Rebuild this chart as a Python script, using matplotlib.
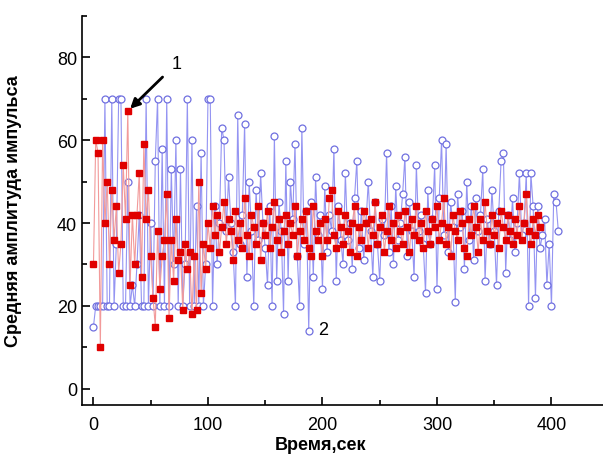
import numpy as np
import matplotlib
matplotlib.use('Agg')
import matplotlib.pyplot as plt
from matplotlib.ticker import MultipleLocator

plt.rcParams['font.family'] = ['Liberation Sans', 'DejaVu Sans']

# series 2 (blue circles), one sample every 2 s
t_blue = np.arange(0, 406.1, 2)
blue = [15, 20, 20, 20, 20, 70, 20, 20, 70, 20,
        35, 70, 70, 20, 20, 50, 20, 25, 20, 30,
        42, 20, 20, 70, 20, 40, 20, 55, 70, 20,
        58, 20, 70, 20, 53, 30, 60, 20, 53, 20,
        30, 70, 20, 60, 20, 44, 20, 57, 20, 30,
        70, 70, 20, 44, 30, 40, 63, 60, 38, 51,
        40, 33, 20, 66, 35, 42, 64, 27, 50, 38,
        20, 48, 36, 52, 40, 34, 25, 44, 20, 61,
        26, 45, 38, 18, 55, 26, 50, 41, 59, 32,
        20, 63, 35, 43, 14, 45, 27, 51, 37, 42,
        24, 49, 33, 42, 38, 58, 26, 44, 36, 30,
        52, 36, 40, 29, 46, 55, 34, 43, 31, 40,
        50, 38, 27, 45, 35, 26, 41, 37, 57, 33,
        44, 30, 49, 36, 40, 47, 56, 32, 45, 38,
        27, 54, 38, 42, 35, 23, 48, 35, 41, 54,
        24, 46, 60, 37, 59, 33, 45, 39, 21, 47,
        39, 43, 29, 50, 36, 44, 31, 46, 38, 42,
        53, 26, 41, 35, 48, 38, 25, 43, 55, 57,
        28, 42, 36, 46, 33, 40, 52, 37, 40, 52,
        20, 52, 44, 22, 44, 34, 37, 41, 25, 35,
        20, 47, 45, 38]

# series 1 (red squares)
t_red = np.arange(0, 390.1, 2)
red = [30, 60, 57, 10, 60, 40, 50, 30, 48, 36,
       44, 28, 35, 54, 41, 67, 25, 42, 30, 42,
       52, 27, 59, 41, 48, 32, 22, 15, 38, 24,
       32, 36, 47, 17, 36, 26, 41, 31, 33, 19,
       35, 29, 33, 18, 32, 19, 50, 23, 35, 29,
       40, 34, 44, 37, 42, 33, 39, 45, 35, 41,
       38, 31, 43, 36, 40, 34, 46, 37, 32, 42,
       39, 35, 44, 31, 40, 37, 43, 34, 39, 45,
       36, 41, 33, 38, 42, 35, 40, 37, 44, 32,
       38, 41, 36, 43, 34, 32, 44, 38, 36, 40,
       32, 41, 36, 46, 48, 37, 34, 43, 39, 35,
       42, 38, 33, 40, 44, 32, 39, 36, 43, 40,
       34, 41, 37, 45, 35, 39, 42, 33, 38, 44,
       36, 40, 34, 42, 38, 35, 43, 39, 33, 41,
       37, 44, 36, 40, 34, 43, 38, 35, 41, 39,
       44, 36, 40, 46, 35, 39, 32, 42, 38, 36,
       43, 40, 34, 32, 41, 37, 44, 39, 33, 41,
       36, 45, 38, 35, 42, 37, 40, 34, 43, 39,
       36, 42, 38, 35, 41, 37, 44, 36, 40, 47,
       38, 35, 41, 37, 42, 39]

fig = plt.figure(figsize=(6.03, 4.60), dpi=100)
ax = fig.add_axes([0.136, 0.117, 0.864, 0.846])

ax.plot(t_blue, blue, '-', color='#9494f2', lw=0.8, zorder=1)
ax.plot(t_blue, blue, 'o', ms=5, mfc='white', mec='#7070e0', mew=0.9, zorder=2)
ax.plot(t_red, red, '-', color='#f29a9a', lw=0.8, zorder=3)
ax.plot(t_red, red, 's', ms=4.2, mfc='#e00000', mec='#e00000', zorder=4)

ax.set_xlim(-10, 445)
ax.set_ylim(-4, 90)
ax.xaxis.set_major_locator(MultipleLocator(100))
ax.xaxis.set_minor_locator(MultipleLocator(50))
ax.yaxis.set_major_locator(MultipleLocator(20))
ax.yaxis.set_minor_locator(MultipleLocator(10))
ax.tick_params(which='both', direction='in', labelsize=13, width=1.2)
ax.tick_params(which='major', length=6)
ax.tick_params(which='minor', length=3.5)
ax.tick_params(axis='x', pad=8)
ax.spines['top'].set_visible(False)
ax.spines['right'].set_visible(False)
ax.spines['left'].set_linewidth(1.2)
ax.spines['bottom'].set_linewidth(1.2)

ax.set_xlabel('Время,сек', fontsize=13, fontweight='bold')
ax.set_ylabel('Средняя амплитуда импульса', fontsize=13, fontweight='bold')
ax.xaxis.set_label_coords(0.457, -0.08)
ax.yaxis.set_label_coords(-0.115, 0.5)

ax.annotate('1', xy=(32, 67.6), xytext=(68, 78.5), fontsize=13,
            ha='left', va='center',
            arrowprops=dict(arrowstyle='-|>', color='black', lw=2,
                            mutation_scale=14, shrinkA=6, shrinkB=0))
ax.text(196.5, 14.3, '2', fontsize=13, ha='left', va='center')

fig.savefig('out.png', dpi=100)
